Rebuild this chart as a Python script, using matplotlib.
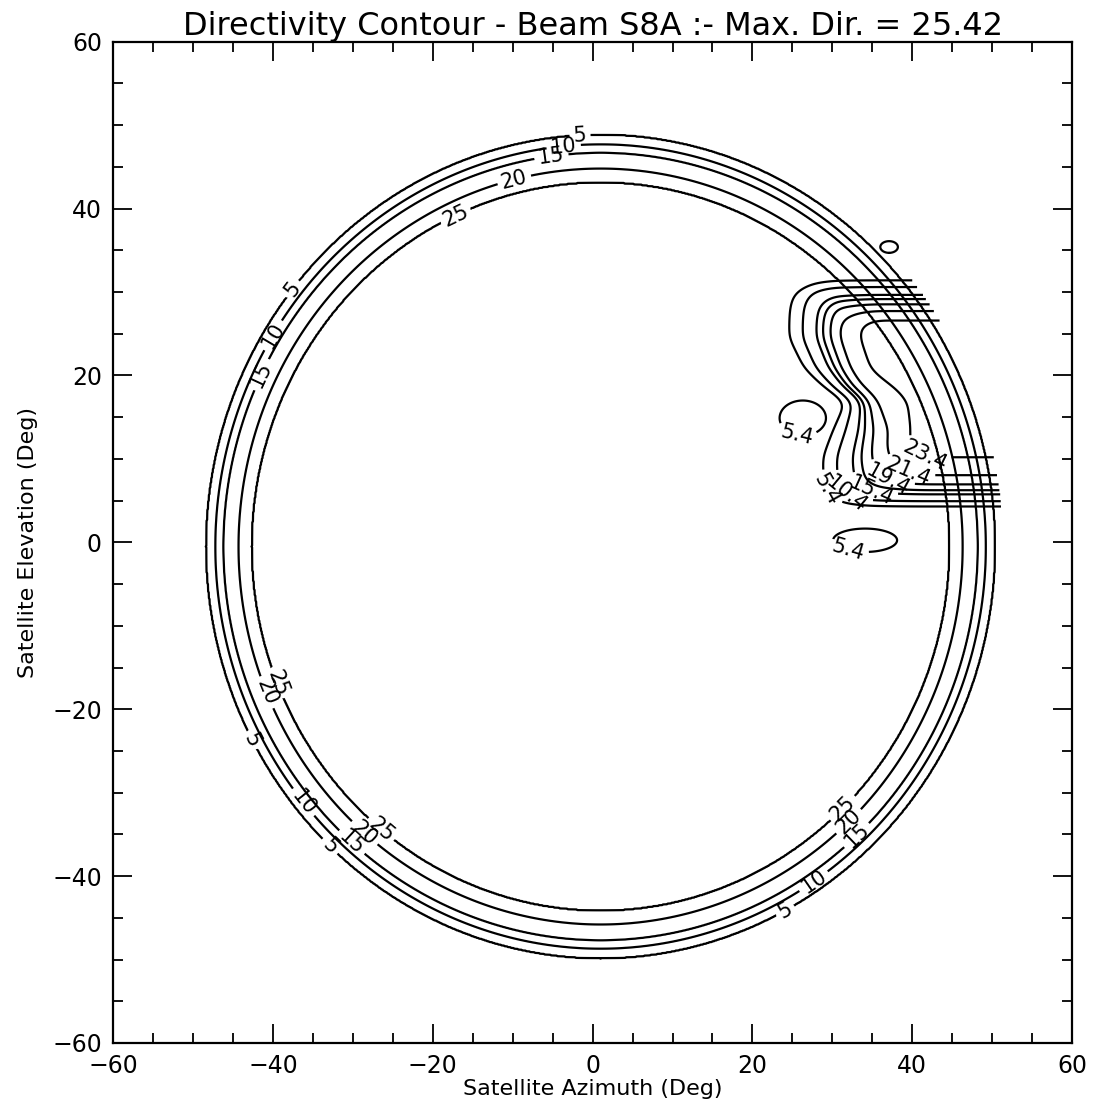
import numpy as np
import matplotlib
matplotlib.use('Agg')
from matplotlib import pyplot as plt
from matplotlib.ticker import MultipleLocator

# Edge-of-coverage rings (dB) - radius, centre slightly off zero
ring_center = (1.0, -0.5)
ring_radius = [43.6, 45.3, 47.2, 48.2, 49.4]
ring_level = [25, 20, 15, 10, 5]

# Spot beam S8A, contour levels (dB)
beam_level = [5.4, 10.4, 15.4, 17.4, 19.4, 21.4, 23.4]
beam_peak = 25.42
# left edge of each level (azimuth, deg) at a few elevation rows
beam_row_el = [24.5, 20.8, 18.5, 16.8, 13.5, 10.2]
beam_left_az = [
    [24.6, 26.5, 29.0, 31.6, 30.1, 28.8],
    [26.3, 28.0, 30.2, 32.6, 31.7, 30.5],
    [27.9, 29.4, 31.2, 33.4, 33.1, 32.3],
    [28.8, 30.3, 31.9, 34.0, 34.1, 33.5],
    [29.7, 31.1, 32.6, 34.6, 35.0, 34.6],
    [30.7, 32.0, 33.4, 35.3, 36.9, 36.5],
    [33.5, 34.8, 37.9, 39.4, 39.8, 39.5],
]
beam_top_el = [31.4, 30.6, 29.9, 29.2, 28.6, 27.9, 26.6]
beam_bottom_el = [4.3, 4.9, 5.4, 6.2, 6.8, 7.8, 10.2]
beam_edge_radius = 50.4

# small stray 5.4 dB islands
island_az = [26.3, 34.1, 37.1]
island_el = [14.9, 0.25, 35.4]
island_half_az = [2.9, 4.0, 1.1]
island_half_el = [2.1, 1.4, 0.7]

TITLE = "Directivity Contour - Beam S8A :- Max. Dir. = 25.42"


def interp_lin(x, xp, fp):
    # np.interp but extended linearly past both ends
    x = np.asarray(x, dtype=float)
    xp = np.asarray(xp, dtype=float)
    fp = np.asarray(fp, dtype=float)
    y = np.interp(x, xp, fp)
    lo = x < xp[0]
    hi = x > xp[-1]
    y[lo] = fp[0] + (x[lo] - xp[0]) * (fp[1] - fp[0]) / (xp[1] - xp[0])
    y[hi] = fp[-1] + (x[hi] - xp[-1]) * (fp[-1] - fp[-2]) / (xp[-1] - xp[-2])
    return y


def smooth(field, sigma_pts):
    k = np.arange(-3 * sigma_pts, 3 * sigma_pts + 1)
    ker = np.exp(-0.5 * (k / sigma_pts) ** 2)
    ker /= ker.sum()
    pad = len(k) // 2
    f = np.pad(field, pad, mode='edge')
    f = np.apply_along_axis(lambda v: np.convolve(v, ker, mode='valid'), 0, f)
    f = np.apply_along_axis(lambda v: np.convolve(v, ker, mode='valid'), 1, f)
    return f


az = np.linspace(-60, 60, 1201)
el = np.linspace(-60, 60, 1201)
AZ, EL = np.meshgrid(az, el)
R = np.hypot(AZ - ring_center[0], EL - ring_center[1])

ring_field = np.interp(R, ring_radius, ring_level, left=26.0, right=4.0)

# beam: only the patch around the spot is needed
saz = az[(az >= 10) & (az <= 58)]
sel = el[(el >= -10) & (el <= 45)]
SAZ, SEL = np.meshgrid(saz, sel)
SR = np.hypot(SAZ - ring_center[0], SEL - ring_center[1])

row_el = np.array(beam_row_el[::-1])
left_tab = np.array(beam_left_az)[:, ::-1]
g_left = np.empty_like(SAZ)
for i, e in enumerate(sel):
    xk = [np.interp(e, row_el, left_tab[k]) for k in range(len(beam_level))]
    g_left[i] = interp_lin(saz, xk, beam_level)
g_top = interp_lin(-SEL, -np.array(beam_top_el), beam_level)
g_bot = interp_lin(SEL, beam_bottom_el, beam_level)

p = 2.2
defs = [np.clip(beam_peak - g, 0, 60) for g in (g_left, g_top, g_bot)]
D = (defs[0] ** p + defs[1] ** p + defs[2] ** p) ** (1.0 / p)
beam_field = smooth(beam_peak - D, 7)
beam_field[SR > beam_edge_radius] = np.nan

island_field = np.full_like(SAZ, -10.0)
for cx, cy, wx, wy in zip(island_az, island_el, island_half_az, island_half_el):
    d = np.hypot((SAZ - cx) / wx, (SEL - cy) / wy)
    island_field = np.maximum(island_field, 5.4 + 2.0 * (1.0 - d))

fig = plt.figure(figsize=(11.03, 10.99), dpi=100)
ax = fig.add_axes([0.1025, 0.051, 0.8695, 0.911])

lw = 1.6
lab_kw = dict(inline=True, fontsize=15, inline_spacing=4)

cs_ring = ax.contour(AZ, EL, ring_field, levels=sorted(ring_level), colors='black', linewidths=lw)
# ring labels: (level, angle deg from ring centre), placed right on that ring
ring_marks = [(25, 114.6), (20, 103.8), (15, 97.5), (10, 95.5), (5, 93.0),
              (5, 141.3), (10, 148.3), (15, 154.1),
              (25, 202.0), (20, 202.7), (5, 208.0),
              (10, 219.5), (5, 226.7), (15, 228.7), (20, 229.3), (25, 231.0),
              (25, 314.0), (20, 313.3), (15, 312.8), (10, 303.6), (5, 297.9)]
ring_pos = []
for lev, ang in ring_marks:
    rr = ring_radius[ring_level.index(lev)]
    t = np.radians(ang)
    ring_pos.append((ring_center[0] + rr * np.cos(t), ring_center[1] + rr * np.sin(t)))
ax.clabel(cs_ring, fmt='%g', manual=ring_pos, **lab_kw)

# beam: one contour per level so each label lands on its own line
beam_label_pos = {5.4: (29.0, 6.2), 10.4: (31.5, 5.3), 15.4: (34.8, 6.0),
                  19.4: (37.0, 7.6), 21.4: (39.5, 8.4), 23.4: (41.6, 10.6)}
for lev in beam_level:
    cs = ax.contour(SAZ, SEL, beam_field, levels=[lev], colors='black', linewidths=lw)
    if lev in beam_label_pos:
        ax.clabel(cs, fmt='%.1f', manual=[beam_label_pos[lev]], **lab_kw)

cs_isl = ax.contour(SAZ, SEL, island_field, levels=[5.4], colors='black', linewidths=lw)
ax.clabel(cs_isl, fmt='%.1f', manual=[(25.5, 12.8), (32.0, -1.0)], **lab_kw)

ax.set_xlim(-60, 60)
ax.set_ylim(-60, 60)
ax.xaxis.set_major_locator(MultipleLocator(20))
ax.yaxis.set_major_locator(MultipleLocator(20))
ax.xaxis.set_minor_locator(MultipleLocator(5))
ax.yaxis.set_minor_locator(MultipleLocator(5))
ax.tick_params(which='both', direction='in', top=True, right=True, width=1.3)
ax.tick_params(which='major', length=14, labelsize=17, pad=8)
ax.tick_params(which='minor', length=7)
for sp in ax.spines.values():
    sp.set_linewidth(1.6)

ax.set_xlabel("Satellite Azimuth (Deg)", fontsize=16, labelpad=1)
ax.set_ylabel("Satellite Elevation (Deg)", fontsize=16, labelpad=10)
ax.set_title(TITLE, fontsize=23, pad=5)

fig.savefig("out.png", dpi=100)
